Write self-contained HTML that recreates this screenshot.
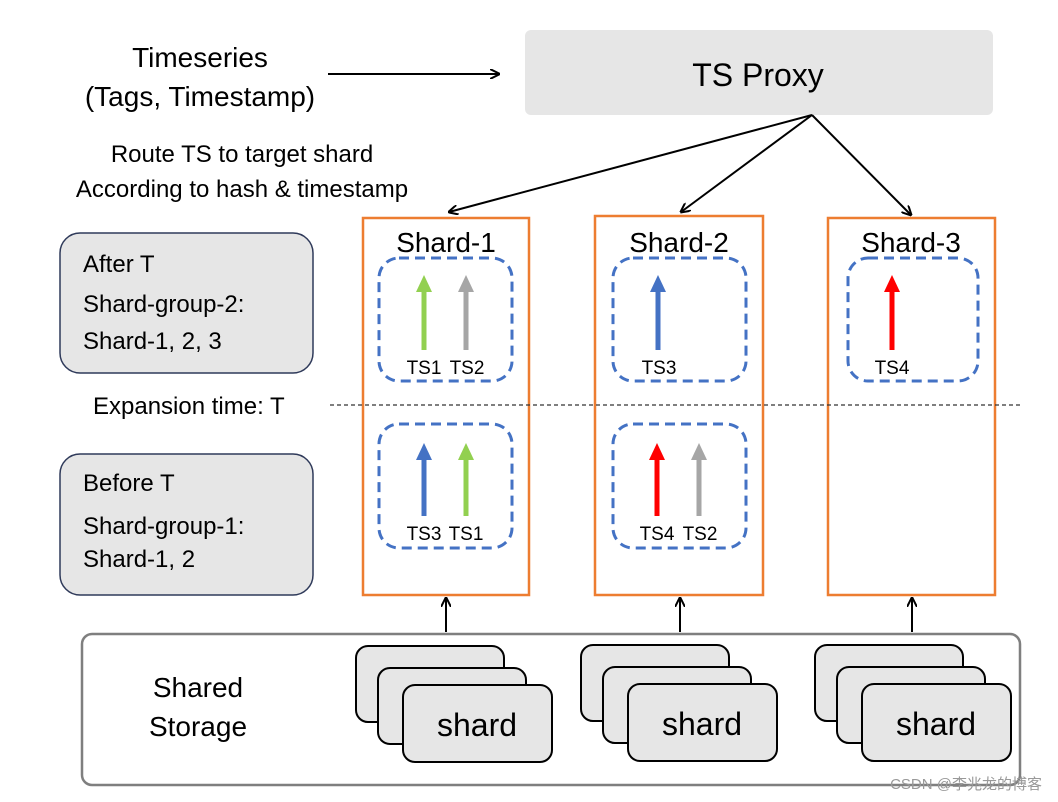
<!DOCTYPE html>
<html><head><meta charset="utf-8"><style>body{margin:0;background:#fff}svg{display:block}</style></head><body>
<svg width="1058" height="802" viewBox="0 0 1058 802" xmlns="http://www.w3.org/2000/svg" font-family="Liberation Sans, Arial, sans-serif">
<defs>
<marker id="ah" markerWidth="10" markerHeight="10" refX="9" refY="5" orient="auto" markerUnits="userSpaceOnUse"><path d="M0,0 L10,5 L0,10" fill="none" stroke="#000" stroke-width="2"/></marker>
</defs>
<rect width="1058" height="802" fill="#fff"/>
<rect x="525" y="30" width="468" height="85" rx="6" fill="#e6e6e6"/>
<text x="758" y="86" font-size="32" text-anchor="middle">TS Proxy</text>
<text x="200" y="67" font-size="28" text-anchor="middle">Timeseries</text>
<text x="200" y="106" font-size="28" text-anchor="middle">(Tags, Timestamp)</text>
<line x1="328" y1="74" x2="499" y2="74" stroke="#000" stroke-width="2" marker-end="url(#ah)"/>
<text x="242" y="162" font-size="24" text-anchor="middle">Route TS to target shard</text>
<text x="242" y="197" font-size="24" text-anchor="middle">According to hash &amp; timestamp</text>
<g stroke="#000" stroke-width="2" fill="none">
<line x1="812" y1="115" x2="449" y2="212" marker-end="url(#ah)"/>
<line x1="812" y1="115" x2="681" y2="212" marker-end="url(#ah)"/>
<line x1="812" y1="115" x2="911" y2="215" marker-end="url(#ah)"/>
<line x1="446" y1="632" x2="446" y2="598" marker-end="url(#ah)"/>
<line x1="680" y1="632" x2="680" y2="598" marker-end="url(#ah)"/>
<line x1="912" y1="632" x2="912" y2="598" marker-end="url(#ah)"/>
</g>
<g fill="none" stroke="#ed7d31" stroke-width="2.5">
<rect x="363" y="218" width="166" height="377"/>
<rect x="595" y="216" width="168" height="379"/>
<rect x="828" y="218" width="167" height="377"/>
</g>
<g font-size="28" text-anchor="middle">
<text x="446" y="252">Shard-1</text>
<text x="679" y="252">Shard-2</text>
<text x="911" y="252">Shard-3</text>
</g>
<g fill="none" stroke="#4472c4" stroke-width="3" stroke-dasharray="10,6">
<rect x="379" y="258" width="133" height="123" rx="20"/>
<rect x="379" y="424" width="133" height="124" rx="20"/>
<rect x="613" y="258" width="133" height="123" rx="20"/>
<rect x="613" y="424" width="133" height="124" rx="20"/>
<rect x="848" y="258" width="130" height="123" rx="20"/>
</g>
<g stroke-width="5">
<line x1="424" y1="350" x2="424" y2="290" stroke="#92d050"/><polygon points="416,292 432,292 424,275" fill="#92d050"/>
<line x1="466" y1="350" x2="466" y2="290" stroke="#a6a6a6"/><polygon points="458,292 474,292 466,275" fill="#a6a6a6"/>
<line x1="658" y1="350" x2="658" y2="290" stroke="#4472c4"/><polygon points="650,292 666,292 658,275" fill="#4472c4"/>
<line x1="892" y1="350" x2="892" y2="290" stroke="#ff0000"/><polygon points="884,292 900,292 892,275" fill="#ff0000"/>
<line x1="424" y1="516" x2="424" y2="458" stroke="#4472c4"/><polygon points="416,460 432,460 424,443" fill="#4472c4"/>
<line x1="466" y1="516" x2="466" y2="458" stroke="#92d050"/><polygon points="458,460 474,460 466,443" fill="#92d050"/>
<line x1="657" y1="516" x2="657" y2="458" stroke="#ff0000"/><polygon points="649,460 665,460 657,443" fill="#ff0000"/>
<line x1="699" y1="516" x2="699" y2="458" stroke="#a6a6a6"/><polygon points="691,460 707,460 699,443" fill="#a6a6a6"/>
</g>
<g font-size="19" text-anchor="middle">
<text x="424" y="374">TS1</text><text x="467" y="374">TS2</text>
<text x="659" y="374">TS3</text><text x="892" y="374">TS4</text>
<text x="424" y="540">TS3</text><text x="466" y="540">TS1</text>
<text x="657" y="540">TS4</text><text x="700" y="540">TS2</text>
</g>
<line x1="330" y1="405" x2="1022" y2="405" stroke="#333" stroke-width="1.2" stroke-dasharray="4,3"/>
<text x="93" y="414" font-size="24">Expansion time: T</text>
<g fill="#e6e6e6" stroke="#2f3a5a" stroke-width="1.5">
<rect x="60" y="233" width="253" height="140" rx="20"/>
<rect x="60" y="454" width="253" height="141" rx="20"/>
</g>
<g font-size="24">
<text x="83" y="272">After T</text>
<text x="83" y="312">Shard-group-2:</text>
<text x="83" y="349">Shard-1, 2, 3</text>
<text x="83" y="491">Before T</text>
<text x="83" y="534">Shard-group-1:</text>
<text x="83" y="567">Shard-1, 2</text>
</g>
<rect x="82" y="634" width="938" height="151" rx="10" fill="none" stroke="#7f7f7f" stroke-width="2.5"/>
<text x="198" y="697" font-size="28" text-anchor="middle">Shared</text>
<text x="198" y="736" font-size="28" text-anchor="middle">Storage</text>
<g fill="#e6e6e6" stroke="#000" stroke-width="2">
<rect x="356" y="646" width="148" height="76" rx="12"/><rect x="378" y="668" width="148" height="76" rx="12"/><rect x="403" y="685" width="149" height="77" rx="12"/>
<rect x="581" y="645" width="148" height="76" rx="12"/><rect x="603" y="667" width="148" height="76" rx="12"/><rect x="628" y="684" width="149" height="77" rx="12"/>
<rect x="815" y="645" width="148" height="76" rx="12"/><rect x="837" y="667" width="148" height="76" rx="12"/><rect x="862" y="684" width="149" height="77" rx="12"/>
</g>
<g font-size="32" text-anchor="middle">
<text x="477" y="736">shard</text><text x="702" y="735">shard</text><text x="936" y="735">shard</text>
</g>
<text x="1042" y="789" font-size="15" fill="#999" text-anchor="end" font-family="Liberation Sans, Noto Sans CJK SC, sans-serif">CSDN @李兆龙的博客</text>
</svg>
</body></html>
